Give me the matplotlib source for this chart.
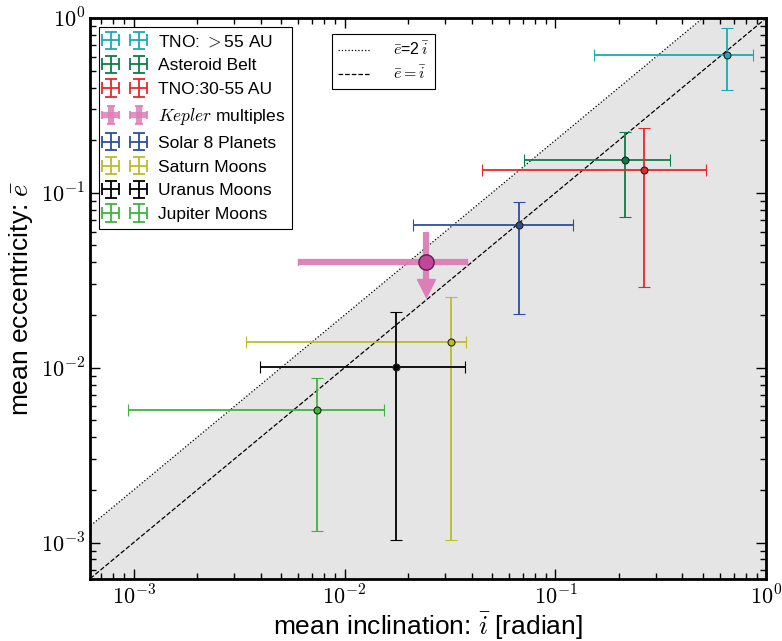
import numpy as np
import matplotlib
matplotlib.use("Agg")
import matplotlib.pyplot as plt
from matplotlib.ticker import FuncFormatter, LogLocator

plt.rcParams['font.family'] = ['Liberation Sans', 'DejaVu Sans']
plt.rcParams['mathtext.fontset'] = 'cm'

# samples (legend order)
labels = ["TNO: $>$55 AU", "Asteroid Belt", "TNO:30-55 AU", r"$Kepler$ multiples",
          "Solar 8 Planets", "Saturn Moons", "Uranus Moons", "Jupiter Moons"]
colors = ["#1aaab6", "#0b7d48", "#e8262c", "#dc7fb8",
          "#2b4ea0", "#bdbd26", "#000000", "#40b340"]

# mean inclination and its range [radian]
inc = [0.652, 0.213, 0.262, 0.0243, 0.0675, 0.032, 0.0175, 0.00743]
inc_lo = [0.152, 0.0711, 0.0449, 0.00604, 0.0211, 0.00341, 0.00398, 0.000936]
inc_hi = [0.867, 0.349, 0.518, 0.0381, 0.1205, 0.0377, 0.0372, 0.01535]

# mean eccentricity and its range
ecc = [0.615, 0.154, 0.135, 0.0403, 0.0656, 0.0141, 0.0101, 0.00575]
ecc_lo = [0.388, 0.0729, 0.029, 0.0285, 0.0204, 0.00103, 0.00103, 0.00116]
ecc_hi = [0.877, 0.223, 0.235, 0.060, 0.0889, 0.0255, 0.0209, 0.00877]

lim = (6.2e-4, 1.0)

fig = plt.figure(figsize=(7.82, 6.41), dpi=100)
ax = fig.add_axes([0.115, 0.097, 0.865, 0.875])
ax.set_xscale('log')
ax.set_yscale('log')

# shaded region below e = 2 i
xx = np.logspace(-4, 0.5, 200)
ax.fill_between(xx, 1e-5, 2 * xx, color='#e5e5e5', lw=0, zorder=0)
l1, = ax.plot(xx, 2 * xx, ':', color='k', lw=0.9, zorder=1)
l2, = ax.plot(xx, xx, '--', color='k', lw=0.9, zorder=1)

handles = []
for i in range(len(labels)):
    xerr = [[inc[i] - inc_lo[i]], [inc_hi[i] - inc[i]]]
    yerr = [[ecc[i] - ecc_lo[i]], [ecc_hi[i] - ecc[i]]]
    if i == 3:
        ax.errorbar([inc[i]], [ecc[i]], xerr=xerr, yerr=yerr, fmt='o',
                    color=colors[i], ecolor=colors[i], elinewidth=4.5, capsize=0,
                    mfc='#c0439a', mec='#5a1a45', ms=11, alpha=0.95, zorder=4)
        ax.plot([inc[i]], [ecc_lo[i]], marker='v', color=colors[i], ms=13,
                mec='#dc7fb8', zorder=3)
        ax.plot([inc_lo[i], inc_lo[i]], [ecc[i] * 0.96, ecc[i] * 1.04], color=colors[i], lw=1)
        ax.plot([inc_hi[i], inc_hi[i]], [ecc[i] * 0.96, ecc[i] * 1.04], color=colors[i], lw=1)
        # legend proxy: thick crosses, no marker
        h = ax.errorbar([np.nan], [np.nan], xerr=1, yerr=1, fmt='none',
                        ecolor=colors[i], elinewidth=4.5, capsize=3, capthick=1.5,
                        alpha=0.85)
    else:
        ax.errorbar([inc[i]], [ecc[i]], xerr=xerr, yerr=yerr, fmt='o',
                    color=colors[i], ecolor=colors[i], elinewidth=1.3, capsize=4,
                    capthick=1.3, mfc=colors[i], mec='#222222', ms=5, mew=0.8,
                    zorder=5)
        h = ax.errorbar([np.nan], [np.nan], xerr=1, yerr=1, fmt='none',
                        ecolor=colors[i], elinewidth=1.3, capsize=4, capthick=1.3)
    handles.append(h)

ax.set_xlim(*lim)
ax.set_ylim(*lim)

# serif (computer modern) decade labels
fmt = FuncFormatter(lambda v, p: r"$10^{%d}$" % int(round(np.log10(v))))
for a in (ax.xaxis, ax.yaxis):
    a.set_major_locator(LogLocator(base=10))
    a.set_major_formatter(fmt)

ax.tick_params(which='both', direction='in', top=True, right=True, labelsize=16)
ax.tick_params(axis='x', pad=5)
ax.tick_params(which='major', length=7, width=1)
ax.tick_params(which='minor', length=4, width=1)
for s in ax.spines.values():
    s.set_linewidth(2)

ax.set_xlabel(r"mean inclination: $\bar{i}$ [radian]", fontsize=19, labelpad=1)
ax.set_ylabel(r"mean eccentricity: $\bar{e}$", fontsize=19)

leg1 = ax.legend(handles=handles, labels=labels, loc='upper left', fontsize=12.5,
                 numpoints=2, fancybox=False, edgecolor='k', framealpha=1,
                 handlelength=2.2, borderaxespad=0.5, labelspacing=0.5)
leg1.get_frame().set_linewidth(0.8)
ax.add_artist(leg1)

leg2 = ax.legend([l1, l2], [r"$\bar{e}$=2$\,\bar{i}$", r"$\bar{e}=\bar{i}$"],
                 loc='upper left', bbox_to_anchor=(0.346, 0.985), fontsize=11.5,
                 fancybox=False, edgecolor='k', framealpha=1, handlelength=2.0,
                 handletextpad=1.4, labelspacing=0.4)
leg2.get_frame().set_linewidth(0.8)

fig.savefig("out.png", dpi=100)
